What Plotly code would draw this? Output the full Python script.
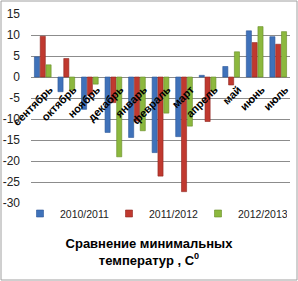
import plotly.graph_objects as go

months = ["сентябрь", "октябрь", "ноябрь", "декабрь", "январь", "февраль",
          "март", "апрель", "май", "июнь", "июль"]
s2010 = [4.8, -3.5, -7.7, -13.2, -14.4, -18.0, -14.2, 0.4, 2.5, 11.0, 9.6]
s2011 = [9.7, 4.4, -4.3, -6.1, -10.5, -23.6, -27.3, -10.6, -1.9, 8.2, 7.8]
s2012 = [2.9, -3.1, -1.7, -19.0, -12.8, -8.6, -11.7, -3.3, 6.0, 12.0, 10.8]
names = ["2010/2011", "2011/2012", "2012/2013"]
colors = ["#3F72BA", "#C0392F", "#8CB83E"]
lines = ["#2C5597", "#8E2620", "#668C27"]
yticks = [15, 10, 5, 0, -5, -10, -15, -20, -25, -30]

W, H = 298, 281
ml, mr, mt, mb = 31, 8, 14, 78
pw = W - ml - mr
ph = H - mt - mb

fig = go.Figure()
for n, vals, c, lc in zip(names, [s2010, s2011, s2012], colors, lines):
    fig.add_trace(go.Bar(x=months, y=vals, name=n, showlegend=False,
                         marker=dict(color=c, line=dict(color=lc, width=0.6))))
for n, c, lc in zip(names, colors, lines):
    fig.add_trace(go.Scatter(x=[None], y=[None], mode="markers", name=n,
                             marker=dict(symbol="square", size=7, color=c,
                                         line=dict(color=lc, width=0.6))))
# invisible spacer entry so the last legend label is not clipped
fig.add_trace(go.Scatter(x=[None], y=[None], mode="markers", name=" ",
                         marker=dict(symbol="square", size=1, color="rgba(0,0,0,0)")))

ymin, ymax = -30, 15
fig.update_layout(
    width=W, height=H,
    margin=dict(l=ml, r=mr, t=mt, b=mb, autoexpand=False),
    paper_bgcolor="white", plot_bgcolor="white",
    barmode="group", bargap=0.26, bargroupgap=0.12,
    font=dict(family="Liberation Sans, Arial, sans-serif", color="#000000"),
    showlegend=True,
    legend=dict(orientation="h", x=(20 - ml) / pw, xanchor="left",
                y=-(223 - (H - mb)) / ph, yanchor="middle",
                font=dict(size=10.5, color="#222222"), itemwidth=30,
                entrywidth=44, entrywidthmode="pixels",
                bgcolor="rgba(0,0,0,0)"),
    title=dict(text="<b>Сравнение минимальных<br>температур , C<sup>0</sup></b>",
               x=0.5, xanchor="center", xref="container", yref="container",
               y=(H - 248) / H, yanchor="middle",
               font=dict(size=13, family="Liberation Sans, Arial, sans-serif", color="#000000")),
    xaxis=dict(anchor="free", position=(0 - ymin) / (ymax - ymin), tickangle=-45,
               tickvals=months, ticktext=["<b>" + m + "</b>" for m in months],
               ticklabelshift=7, ticklabelstandoff=3,
               showline=False, showgrid=False, ticks="", zeroline=False,
               tickfont=dict(size=11, family="Liberation Sans, Arial, sans-serif", color="#000000")),
    yaxis=dict(range=[ymin, ymax], tickvals=yticks, ticktext=[str(v) for v in yticks],
               showgrid=True, gridcolor="#8C8C8C", gridwidth=1, zeroline=True,
               zerolinecolor="#8C8C8C", zerolinewidth=1, showline=False,
               ticks="", ticklabelstandoff=10,
               tickfont=dict(size=12, color="#222222")),
)
# chart border
fig.add_shape(type="rect", xref="paper", yref="paper",
              x0=-(ml - 1) / pw, x1=1 + (mr - 1) / pw,
              y0=-(mb - 1) / ph, y1=1 + (mt - 1) / ph,
              line=dict(color="#A0A0A0", width=1), layer="below")
fig.write_html("out.html")
